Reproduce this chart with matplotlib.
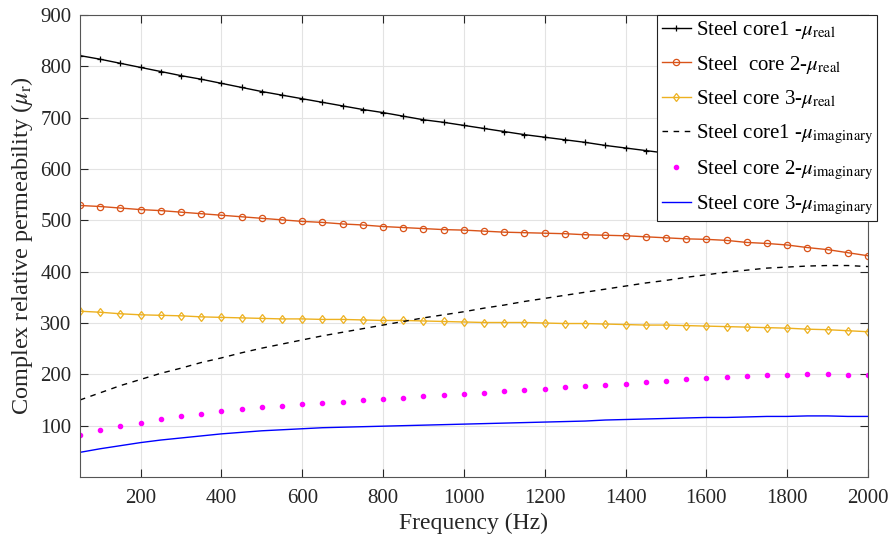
import numpy as np
import matplotlib
matplotlib.use('Agg')
import matplotlib.pyplot as plt

plt.rcParams['font.family'] = ['Liberation Serif', 'DejaVu Serif']
plt.rcParams['mathtext.fontset'] = 'stix'

# 频率 50 Hz 步长
freq = list(range(50, 2001, 50))

core1_real = [821, 814, 806, 798, 790, 782, 775, 767, 759, 751,
              744, 737, 730, 723, 716, 710, 703, 696, 691, 685,
              679, 673, 667, 662, 657, 652, 646, 641, 636, 631,
              626, 621, 616, 612, 607, 603, 599, 595, 591, 587]
core2_real = [529, 527, 524, 521, 519, 516, 513, 510, 507, 504,
              501, 498, 496, 493, 491, 488, 486, 484, 482, 481,
              479, 477, 476, 475, 474, 472, 471, 470, 468, 466,
              464, 463, 461, 457, 455, 452, 447, 443, 437, 431]
core3_real = [323, 321, 318, 316, 315, 314, 312, 311, 310, 309,
              308, 308, 307, 307, 306, 305, 305, 304, 303, 302,
              301, 301, 301, 300, 299, 299, 298, 297, 296, 296,
              295, 294, 293, 292, 291, 290, 288, 287, 285, 283]
core1_imag = [150, 164, 178, 190, 202, 212, 223, 232, 242, 251,
              259, 267, 275, 282, 289, 296, 303, 310, 316, 322,
              329, 335, 342, 348, 354, 360, 366, 372, 378, 383,
              389, 394, 399, 403, 407, 409, 411, 412, 412, 410]
core2_imag = [82, 91, 99, 106, 113, 118, 123, 128, 132, 136,
              139, 142, 145, 147, 150, 152, 154, 157, 160, 162,
              164, 167, 169, 172, 175, 177, 180, 182, 185, 187,
              190, 193, 195, 197, 198, 199, 200, 200, 199, 198]
core3_imag = [48, 55, 61, 67, 72, 76, 80, 84, 87, 90,
              92, 94, 96, 97, 98, 99, 100, 101, 102, 103,
              104, 105, 106, 107, 108, 109, 111, 112, 113, 114,
              115, 116, 116, 117, 118, 118, 119, 119, 118, 118]

fig = plt.figure(figsize=(8.88, 5.38), dpi=100)
ax = fig.add_axes([0.090, 0.1134, 0.8875, 0.8586])

ax.plot(freq, core1_real, '-', color='black', lw=1.0, marker='+', ms=4.5, mew=0.9,
        label=r'Steel core1 -$\mu_{\mathrm{real}}$')
ax.plot(freq, core2_real, '-', color='#D95319', lw=1.0, marker='o', ms=4.5, mfc='none', mew=0.9,
        label=r'Steel  core 2-$\mu_{\mathrm{real}}$')
ax.plot(freq, core3_real, '-', color='#EDB120', lw=1.0, marker='d', ms=4.5, mfc='none', mew=0.9,
        label=r'Steel core 3-$\mu_{\mathrm{real}}$')
ax.plot(freq, core1_imag, '--', color='black', lw=1.0, dashes=(4, 4),
        label=r'Steel core1 -$\mu_{\mathrm{imaginary}}$')
ax.plot(freq, core2_imag, linestyle='none', color='magenta', marker='.', ms=6,
        label=r'Steel core 2-$\mu_{\mathrm{imaginary}}$')
ax.plot(freq, core3_imag, '-', color='blue', lw=1.0,
        label=r'Steel core 3-$\mu_{\mathrm{imaginary}}$')

ax.set_xlim(50, 2000)
ax.set_ylim(0, 900)
ax.set_xticks(range(200, 2001, 200))
ax.set_yticks(range(100, 901, 100))
ax.grid(True, color='#e3e3e3', lw=0.8)
ax.tick_params(direction='in', top=True, right=True, labelsize=15, colors='#262626',
               length=6, pad=6)
ax.tick_params(axis='x', pad=9)
for s in ax.spines.values():
    s.set_color('#555555')

ax.set_xlabel('Frequency (Hz)', fontsize=17, color='#262626', labelpad=3)
ax.set_ylabel(r'Complex relative permeability ($\mu_{\mathrm{r}}$)', fontsize=17.5,
              color='#262626', labelpad=4)

leg = ax.legend(loc='upper right', bbox_to_anchor=(1.012, 1.0), fontsize=15, fancybox=False,
                framealpha=1, edgecolor='#222222', handlelength=1.4, handletextpad=0.25,
                borderpad=0.2, labelspacing=0.6, borderaxespad=0)
leg.get_frame().set_linewidth(0.8)

fig.savefig('out.png', dpi=100)
